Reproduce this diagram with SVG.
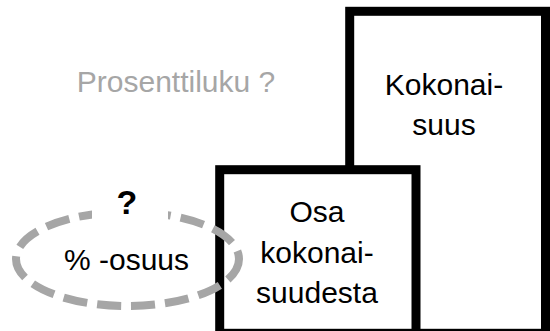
<svg xmlns="http://www.w3.org/2000/svg" width="550" height="331" viewBox="0 0 550 331">
  <style>
    .box { fill: #ffffff; stroke: #000000; stroke-width: 9; }
    .lbl { font-family: "Liberation Sans", Arial, sans-serif; font-size: 30px; fill: #000000; text-anchor: middle; }
    .gray { fill: #a6a6a6; }
    .q { font-weight: bold; font-size: 34px; }
    .oval { fill: none; stroke: #a6a6a6; stroke-width: 8; stroke-dasharray: 24 10; }
  </style>
  <rect width="550" height="331" fill="#ffffff"/>
  <g id="title">
    <text class="lbl gray" x="176" y="92">Prosenttiluku ?</text>
  </g>
  <g id="kokonaisuus">
    <rect class="box" x="349.7" y="11.3" width="195.8" height="322"/>
    <text class="lbl" x="444" y="95">Kokonai-</text>
    <text class="lbl" x="444" y="135">suus</text>
  </g>
  <g id="osa">
    <rect class="box" x="219.7" y="169.7" width="196.3" height="163.6"/>
    <text class="lbl" x="317" y="222">Osa</text>
    <text class="lbl" x="317" y="263">kokonai-</text>
    <text class="lbl" x="317" y="303">suudesta</text>
  </g>
  <g id="osuus">
    <ellipse class="oval" cx="127.5" cy="259" rx="111.5" ry="47"/>
    <rect x="92" y="198" width="76" height="24" fill="#ffffff"/>
    <text class="lbl q" x="127" y="214">?</text>
    <text class="lbl" x="126.5" y="270">% -osuus</text>
  </g>
  <g id="connectors"></g>
</svg>
